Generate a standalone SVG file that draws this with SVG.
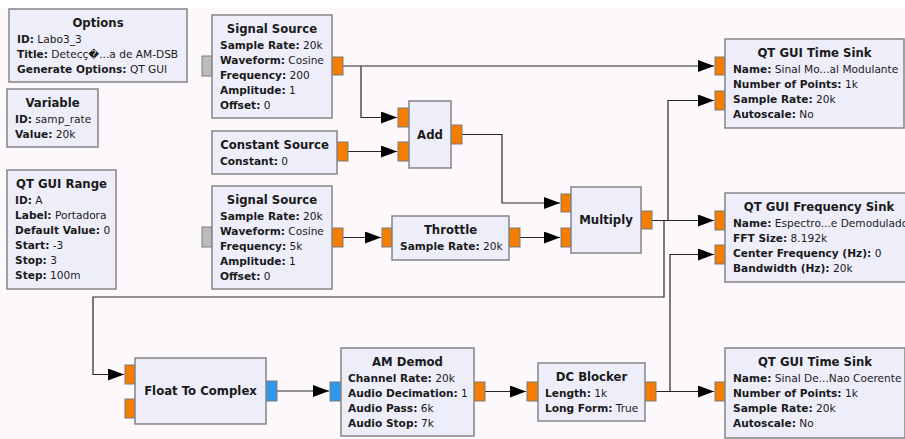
<svg xmlns="http://www.w3.org/2000/svg" width="905" height="439" viewBox="0 0 905 439">
<style>
.bg{fill:#fcf8fc}
.blk{fill:#eeeefa;stroke:#858585;stroke-width:1.5}
.po{fill:#f57d00;stroke:#7a7a7a;stroke-width:1}
.pb{fill:#2f97ec;stroke:#7a7a7a;stroke-width:1}
.pg{fill:#bcbcbc;stroke:#7a7a7a;stroke-width:1}
.t{font-family:"DejaVu Sans",Verdana,sans-serif;font-weight:bold;font-size:11.7px;fill:#1a1a1a;text-anchor:middle}
.p{font-family:"DejaVu Sans",Verdana,sans-serif;font-size:10.6px;fill:#1a1a1a}
.p tspan.k{font-weight:bold}
.c{fill:none;stroke:#262626;stroke-width:1.2}
</style>
<defs>
<marker id="ar" markerUnits="userSpaceOnUse" markerWidth="16" markerHeight="12" refX="16" refY="6" orient="auto">
<path d="M0,0 L16,6 L0,12 z" fill="#000"/>
</marker>
</defs>
<rect width="905" height="439" fill="#ffffff"/>
<rect class="bg" x="0" y="8" width="905" height="431"/>

<g id="connectors">
<path class="c" d="M343,66 H714" marker-end="url(#ar)"/>
<path class="c" d="M361,66 V117.5 H397" marker-end="url(#ar)"/>
<path class="c" d="M348,151.5 H397" marker-end="url(#ar)"/>
<path class="c" d="M462,134.5 H502 V203 H560" marker-end="url(#ar)"/>
<path class="c" d="M343,237.5 H381" marker-end="url(#ar)"/>
<path class="c" d="M520,237.5 H560" marker-end="url(#ar)"/>
<path class="c" d="M652,220.5 H714" marker-end="url(#ar)"/>
<path class="c" d="M668,220.5 V100.5 H714" marker-end="url(#ar)"/>
<path class="c" d="M664,220.5 V297 H93 V374.5 H124" marker-end="url(#ar)"/>
<path class="c" d="M277,391 H329" marker-end="url(#ar)"/>
<path class="c" d="M485,391.5 H526" marker-end="url(#ar)"/>
<path class="c" d="M656,391.5 H714" marker-end="url(#ar)"/>
<path class="c" d="M670,391.5 V254.5 H714" marker-end="url(#ar)"/>
</g>

<g id="options">
<rect class="blk" x="9" y="9" width="178" height="73"/>
<text class="t" x="98" y="26.5">Options</text>
<text class="p" x="17" y="42.5"><tspan class="k">ID:</tspan> Labo3_3</text>
<text class="p" x="17" y="57.5"><tspan class="k">Title:</tspan> Detecç�...a de AM-DSB</text>
<text class="p" x="17" y="72.5"><tspan class="k">Generate Options:</tspan> QT GUI</text>
</g>

<g id="variable">
<rect class="blk" x="7" y="89" width="91" height="58"/>
<text class="t" x="52.5" y="106.5">Variable</text>
<text class="p" x="15" y="122.5"><tspan class="k">ID:</tspan> samp_rate</text>
<text class="p" x="15" y="137.5"><tspan class="k">Value:</tspan> 20k</text>
</g>

<g id="qtguirange">
<rect class="blk" x="7" y="170" width="109" height="119"/>
<text class="t" x="61.5" y="187.5">QT GUI Range</text>
<text class="p" x="15" y="203.5"><tspan class="k">ID:</tspan> A</text>
<text class="p" x="15" y="218.5"><tspan class="k">Label:</tspan> Portadora</text>
<text class="p" x="15" y="233.5"><tspan class="k">Default Value:</tspan> 0</text>
<text class="p" x="15" y="248.5"><tspan class="k">Start:</tspan> -3</text>
<text class="p" x="15" y="263.5"><tspan class="k">Stop:</tspan> 3</text>
<text class="p" x="15" y="278.5"><tspan class="k">Step:</tspan> 100m</text>
</g>

<g id="sigsource1">
<rect class="pg" x="202" y="56" width="10" height="20"/>
<rect class="po" x="332" y="57" width="11" height="18"/>
<rect class="blk" x="212" y="15" width="120" height="103"/>
<text class="t" x="272" y="32.5">Signal Source</text>
<text class="p" x="220" y="48.5"><tspan class="k">Sample Rate:</tspan> 20k</text>
<text class="p" x="220" y="63.5"><tspan class="k">Waveform:</tspan> Cosine</text>
<text class="p" x="220" y="78.5"><tspan class="k">Frequency:</tspan> 200</text>
<text class="p" x="220" y="93.5"><tspan class="k">Amplitude:</tspan> 1</text>
<text class="p" x="220" y="108.5"><tspan class="k">Offset:</tspan> 0</text>
</g>

<g id="constsource">
<rect class="po" x="337" y="142" width="11" height="19"/>
<rect class="blk" x="212" y="131" width="125" height="43"/>
<text class="t" x="274.5" y="148.5">Constant Source</text>
<text class="p" x="220" y="164.5"><tspan class="k">Constant:</tspan> 0</text>
</g>

<g id="sigsource2">
<rect class="pg" x="202" y="227" width="10" height="20"/>
<rect class="po" x="332" y="228" width="11" height="19"/>
<rect class="blk" x="212" y="186" width="120" height="103"/>
<text class="t" x="272" y="203.5">Signal Source</text>
<text class="p" x="220" y="219.5"><tspan class="k">Sample Rate:</tspan> 20k</text>
<text class="p" x="220" y="234.5"><tspan class="k">Waveform:</tspan> Cosine</text>
<text class="p" x="220" y="249.5"><tspan class="k">Frequency:</tspan> 5k</text>
<text class="p" x="220" y="264.5"><tspan class="k">Amplitude:</tspan> 1</text>
<text class="p" x="220" y="279.5"><tspan class="k">Offset:</tspan> 0</text>
</g>

<g id="add">
<rect class="po" x="398" y="108" width="11" height="19"/>
<rect class="po" x="398" y="142" width="11" height="19"/>
<rect class="po" x="451" y="125" width="11" height="19"/>
<rect class="blk" x="409" y="101" width="42" height="67"/>
<text class="t" x="430" y="138.5">Add</text>
</g>

<g id="throttle">
<rect class="po" x="382" y="228" width="10" height="19"/>
<rect class="po" x="509" y="228" width="11" height="19"/>
<rect class="blk" x="392" y="216" width="117" height="44"/>
<text class="t" x="450.5" y="233.5">Throttle</text>
<text class="p" x="400" y="249.5"><tspan class="k">Sample Rate:</tspan> 20k</text>
</g>

<g id="multiply">
<rect class="po" x="561" y="194" width="10" height="18"/>
<rect class="po" x="561" y="228" width="10" height="19"/>
<rect class="po" x="641" y="211" width="11" height="18"/>
<rect class="blk" x="571" y="187" width="70" height="66"/>
<text class="t" x="606" y="224">Multiply</text>
</g>

<g id="timesink1">
<rect class="po" x="715" y="57" width="10" height="18"/>
<rect class="po" x="715" y="91" width="10" height="19"/>
<rect class="blk" x="725" y="39" width="179" height="89"/>
<text class="t" x="814.5" y="56.5">QT GUI Time Sink</text>
<text class="p" x="733" y="72.5"><tspan class="k">Name:</tspan> Sinal Mo...al Modulante</text>
<text class="p" x="733" y="87.5"><tspan class="k">Number of Points:</tspan> 1k</text>
<text class="p" x="733" y="102.5"><tspan class="k">Sample Rate:</tspan> 20k</text>
<text class="p" x="733" y="117.5"><tspan class="k">Autoscale:</tspan> No</text>
</g>

<g id="freqsink">
<rect class="po" x="715" y="211" width="10" height="19"/>
<rect class="po" x="715" y="245" width="10" height="19"/>
<rect class="blk" x="725" y="193" width="188" height="89"/>
<text class="t" x="819" y="210.5">QT GUI Frequency Sink</text>
<text class="p" x="733" y="226.5"><tspan class="k">Name:</tspan> Espectro...e Demodulado</text>
<text class="p" x="733" y="241.5"><tspan class="k">FFT Size:</tspan> 8.192k</text>
<text class="p" x="733" y="256.5"><tspan class="k">Center Frequency (Hz):</tspan> 0</text>
<text class="p" x="733" y="271.5"><tspan class="k">Bandwidth (Hz):</tspan> 20k</text>
</g>

<g id="floattocomplex">
<rect class="po" x="125" y="365" width="10" height="19"/>
<rect class="po" x="125" y="399" width="10" height="19"/>
<rect class="pb" x="266" y="381" width="11" height="20"/>
<rect class="blk" x="135" y="358" width="131" height="66"/>
<text class="t" x="200.5" y="395">Float To Complex</text>
</g>

<g id="amdemod">
<rect class="pb" x="330" y="382" width="11" height="19"/>
<rect class="po" x="474" y="382" width="11" height="19"/>
<rect class="blk" x="341" y="348" width="133" height="88"/>
<text class="t" x="407.5" y="365.5">AM Demod</text>
<text class="p" x="348" y="381.5"><tspan class="k">Channel Rate:</tspan> 20k</text>
<text class="p" x="348" y="396.5"><tspan class="k">Audio Decimation:</tspan> 1</text>
<text class="p" x="348" y="411.5"><tspan class="k">Audio Pass:</tspan> 6k</text>
<text class="p" x="348" y="426.5"><tspan class="k">Audio Stop:</tspan> 7k</text>
</g>

<g id="dcblocker">
<rect class="po" x="527" y="382" width="11" height="19"/>
<rect class="po" x="645" y="382" width="11" height="19"/>
<rect class="blk" x="538" y="363" width="107" height="58"/>
<text class="t" x="591.5" y="380.5">DC Blocker</text>
<text class="p" x="545" y="396.5"><tspan class="k">Length:</tspan> 1k</text>
<text class="p" x="545" y="411.5"><tspan class="k">Long Form:</tspan> True</text>
</g>

<g id="timesink2">
<rect class="po" x="715" y="382" width="10" height="19"/>
<rect class="blk" x="725" y="348" width="180" height="90"/>
<text class="t" x="815" y="365.5">QT GUI Time Sink</text>
<text class="p" x="733" y="381.5"><tspan class="k">Name:</tspan> Sinal De...Nao Coerente</text>
<text class="p" x="733" y="396.5"><tspan class="k">Number of Points:</tspan> 1k</text>
<text class="p" x="733" y="411.5"><tspan class="k">Sample Rate:</tspan> 20k</text>
<text class="p" x="733" y="426.5"><tspan class="k">Autoscale:</tspan> No</text>
</g>
</svg>
